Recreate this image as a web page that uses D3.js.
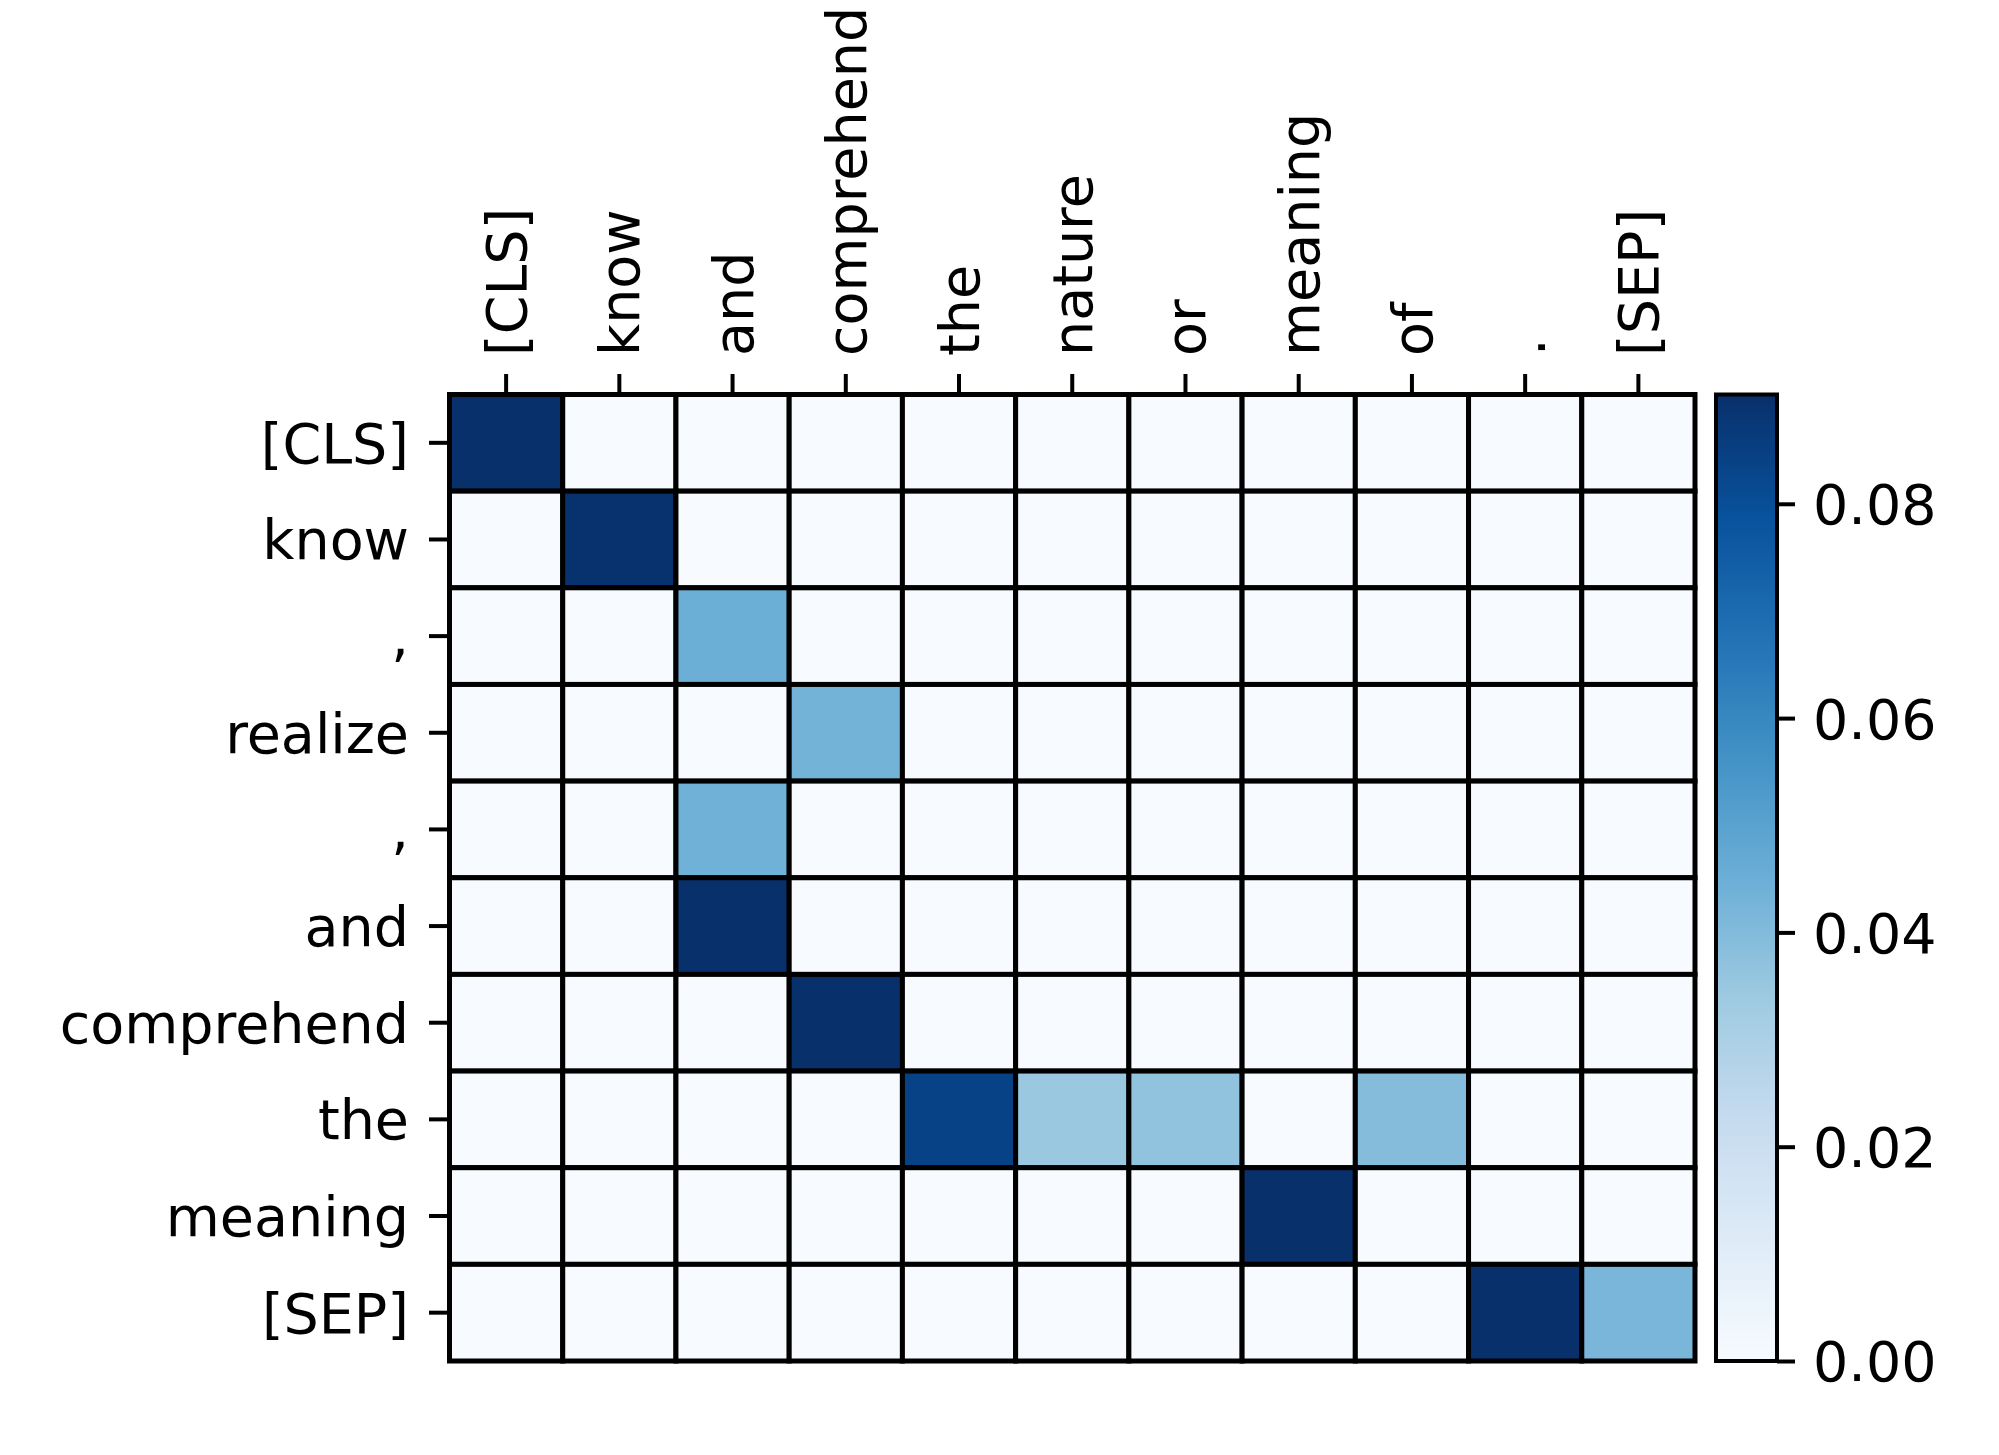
<!DOCTYPE html>
<html>
<head>
<meta charset="utf-8">
<script src="https://cdn.jsdelivr.net/npm/d3@7"></script>
<style>
  body { margin: 0; background: #fff; }
  text { font-family: "DejaVu Sans", sans-serif; }
</style>
</head>
<body>
<svg id="chart"></svg>
<script>
// Token labels
const colTokens = ["[CLS]", "know", "and", "comprehend", "the", "nature", "or", "meaning", "of", ".", "[SEP]"];
const rowTokens = ["[CLS]", "know", ",", "realize", ",", "and", "comprehend", "the", "meaning", "[SEP]"];

// Attention weights, one array per row
const rowCLS        = [0.0902, 0, 0, 0, 0, 0, 0, 0, 0, 0, 0];
const rowKnow       = [0, 0.0895, 0, 0, 0, 0, 0, 0, 0, 0, 0];
const rowComma1     = [0, 0, 0.045, 0, 0, 0, 0, 0, 0, 0, 0];
const rowRealize    = [0, 0, 0, 0.043, 0, 0, 0, 0, 0, 0, 0];
const rowComma2     = [0, 0, 0.044, 0, 0, 0, 0, 0, 0, 0, 0];
const rowAnd        = [0, 0, 0.0900, 0, 0, 0, 0, 0, 0, 0, 0];
const rowComprehend = [0, 0, 0, 0.0900, 0, 0, 0, 0, 0, 0, 0];
const rowThe        = [0, 0, 0, 0, 0.084, 0.0347, 0.0367, 0, 0.0393, 0, 0];
const rowMeaning    = [0, 0, 0, 0, 0, 0, 0, 0.0900, 0, 0, 0];
const rowSEP        = [0, 0, 0, 0, 0, 0, 0, 0, 0, 0.0900, 0.0418];
const weights = [rowCLS, rowKnow, rowComma1, rowRealize, rowComma2, rowAnd,
                 rowComprehend, rowThe, rowMeaning, rowSEP];

const cbarTicks = [0.00, 0.02, 0.04, 0.06, 0.08];
const vmin = 0, vmax = 0.0902;

// matplotlib "Blues"
const blues = ["#f7fbff", "#deebf7", "#c6dbef", "#9ecae1", "#6baed6",
               "#4292c6", "#2171b5", "#08519c", "#08306b"];

const W = 1999, H = 1455;
const svg = d3.select("#chart").attr("width", W).attr("height", H);

const hm = { left: 449.5, right: 1695, top: 394.5, bottom: 1361 };
const cb = { left: 1716, right: 1777 };
const fontSize = 55.5;

const color = d3.scaleLinear()
  .domain(blues.map((_, i) => vmin + (vmax - vmin) * i / (blues.length - 1)))
  .range(blues)
  .interpolate(d3.interpolateRgb)
  .clamp(true);

const x = d3.scaleBand().domain(d3.range(colTokens.length))
  .range([hm.left, hm.right]).padding(0);
const y = d3.scaleBand().domain(d3.range(rowTokens.length))
  .range([hm.top, hm.bottom]).padding(0);

// cells
const cells = [];
weights.forEach((row, r) => row.forEach((v, c) => cells.push({ r, c, v })));

svg.append("g")
  .selectAll("rect")
  .data(cells)
  .join("rect")
  .attr("x", d => x(d.c))
  .attr("y", d => y(d.r))
  .attr("width", x.bandwidth())
  .attr("height", y.bandwidth())
  .attr("fill", d => color(d.v))
  .attr("stroke", "#000")
  .attr("stroke-width", 5);

// axes
const xAxis = svg.append("g")
  .attr("transform", `translate(0,${hm.top - 2.5})`)
  .call(d3.axisTop(x).tickSize(18).tickPadding(18).tickFormat(i => colTokens[i]));
xAxis.select(".domain").remove();
xAxis.selectAll(".tick line").attr("stroke", "#000").attr("stroke-width", 4);
xAxis.selectAll(".tick text")
  .attr("font-size", fontSize)
  .attr("fill", "#000")
  .attr("transform", "rotate(-90)")
  .attr("x", 18 + 18)
  .attr("y", 0)
  .attr("dy", "0.36em")
  .attr("text-anchor", "start");

const yAxis = svg.append("g")
  .attr("transform", `translate(${hm.left - 2.5},0)`)
  .call(d3.axisLeft(y).tickSize(18).tickPadding(20).tickFormat(i => rowTokens[i]));
yAxis.select(".domain").remove();
yAxis.selectAll(".tick line").attr("stroke", "#000").attr("stroke-width", 4);
yAxis.selectAll(".tick text")
  .attr("font-size", fontSize)
  .attr("fill", "#000")
  .attr("dy", "0.36em");

// colorbar
const cy = d3.scaleLinear().domain([vmin, vmax]).range([hm.bottom, hm.top]);

const grad = svg.append("defs").append("linearGradient")
  .attr("id", "cbar")
  .attr("x1", 0).attr("y1", 1).attr("x2", 0).attr("y2", 0);
grad.selectAll("stop")
  .data(blues)
  .join("stop")
  .attr("offset", (d, i) => i / (blues.length - 1))
  .attr("stop-color", d => d);

svg.append("rect")
  .attr("x", cb.left)
  .attr("y", cy(vmax))
  .attr("width", cb.right - cb.left)
  .attr("height", cy(vmin) - cy(vmax))
  .attr("fill", "url(#cbar)")
  .attr("stroke", "#000")
  .attr("stroke-width", 4);

const cAxis = svg.append("g")
  .attr("transform", `translate(${cb.right},0)`)
  .call(d3.axisRight(cy).tickValues(cbarTicks).tickSize(18).tickPadding(18)
    .tickFormat(d3.format(".2f")));
cAxis.select(".domain").remove();
cAxis.selectAll(".tick line").attr("stroke", "#000").attr("stroke-width", 4);
cAxis.selectAll(".tick text")
  .attr("font-size", fontSize)
  .attr("fill", "#000")
  .attr("dy", "0.36em");
</script>
</body>
</html>
